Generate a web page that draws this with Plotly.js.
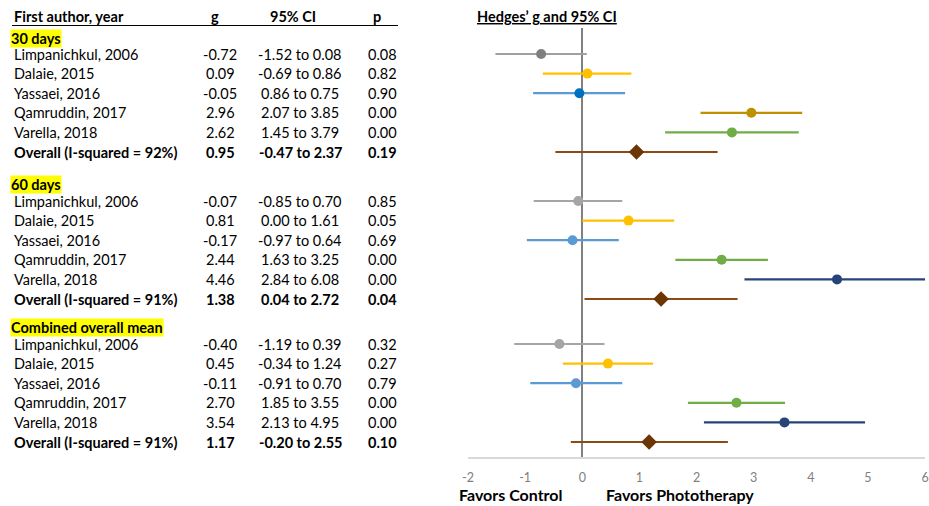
<!DOCTYPE html>
<html>
<head>
<meta charset="utf-8">
<script src="https://cdn.plot.ly/plotly-3.0.1.min.js"></script>
<style>html,body{margin:0;padding:0;background:#fff;}#chart{width:929px;height:506px;}</style>
</head>
<body>
<div id="chart"></div>
<script>
// ---------------- DATA ----------------
const groups = ["30 days", "60 days", "Combined overall mean"];
const studies = ["Limpanichkul, 2006", "Dalaie, 2015", "Yassaei, 2016", "Qamruddin, 2017", "Varella, 2018"];
const overallLabels = ["Overall (I-squared = 92%)", "Overall (I-squared = 91%)", "Overall (I-squared = 91%)"];

const g_30  = [-0.72, 0.09, -0.05, 2.96, 2.62, 0.95];
const lo_30 = [-1.52, -0.69, -0.86, 2.07, 1.45, -0.47];
const hi_30 = [0.08, 0.86, 0.75, 3.85, 3.79, 2.37];
const ci_30 = ["-1.52 to 0.08", "-0.69 to 0.86", "0.86 to 0.75", "2.07 to 3.85", "1.45 to 3.79", "-0.47 to 2.37"];
const p_30  = ["0.08", "0.82", "0.90", "0.00", "0.00", "0.19"];

const g_60  = [-0.07, 0.81, -0.17, 2.44, 4.46, 1.38];
const lo_60 = [-0.85, 0.00, -0.97, 1.63, 2.84, 0.04];
const hi_60 = [0.70, 1.61, 0.64, 3.25, 6.08, 2.72];
const ci_60 = ["-0.85 to 0.70", "0.00 to 1.61", "-0.97 to 0.64", "1.63 to 3.25", "2.84 to 6.08", "0.04 to 2.72"];
const p_60  = ["0.85", "0.05", "0.69", "0.00", "0.00", "0.04"];

const g_all  = [-0.40, 0.45, -0.11, 2.70, 3.54, 1.17];
const lo_all = [-1.19, -0.34, -0.91, 1.85, 2.13, -0.20];
const hi_all = [0.39, 1.24, 0.70, 3.55, 4.95, 2.55];
const ci_all = ["-1.19 to 0.39", "-0.34 to 1.24", "-0.91 to 0.70", "1.85 to 3.55", "2.13 to 4.95", "-0.20 to 2.55"];
const p_all  = ["0.32", "0.27", "0.79", "0.00", "0.00", "0.10"];

const xTicks = [-2, -1, 0, 1, 2, 3, 4, 5, 6];
const headers = ["First author, year", "g", "95% CI", "p"];
const plotTitle = "Hedges\u2019 g and 95% CI";
const favorsLeft = "Favors Control";
const favorsRight = "Favors Phototherapy";

// ---------------- LAYOUT / STYLE ----------------
const W = 929, H = 506, TOP = 28, BOTTOM = 457;
const px2x = px => px / W;
const py2y = py => (BOTTOM - py) / (BOTTOM - TOP);
const FONT = "Lato, 'Open Sans', sans-serif";

const groupData = [
  {g: g_30, lo: lo_30, hi: hi_30, ci: ci_30, p: p_30},
  {g: g_60, lo: lo_60, hi: hi_60, ci: ci_60, p: p_60},
  {g: g_all, lo: lo_all, hi: hi_all, ci: ci_all, p: p_all}
];
const groupFirstRow = [54, 201, 344];
const groupLabelY = [38, 184, 327];
const rowStep = 19.6;

const lineColors = [
  ["#a0a0a0", "#ffc000", "#5b9bd5", "#bf9000", "#70ad47", "#8c4a14"],
  ["#a5a5a5", "#ffc000", "#5b9bd5", "#70ad47", "#264478", "#8c4a14"],
  ["#a5a5a5", "#ffc000", "#5b9bd5", "#70ad47", "#264478", "#8c4a14"]
];
const markerColors = [
  ["#7f7f7f", "#ffc000", "#0070c0", "#bf9000", "#70ad47", "#6b3504"],
  ["#a5a5a5", "#ffc000", "#5b9bd5", "#70ad47", "#264478", "#6b3504"],
  ["#a5a5a5", "#ffc000", "#5b9bd5", "#70ad47", "#264478", "#6b3504"]
];

const colX = {name: 12, g: 220, ci: 300, p: 382};

const traces = [];
const annotations = [];

groupData.forEach((gd, gi) => {
  const ypos = i => groupFirstRow[gi] + i * rowStep;
  annotations.push({
    text: "<b>" + groups[gi] + "</b>", xref: "paper", yref: "y",
    x: px2x(10), y: groupLabelY[gi], xanchor: "left", yanchor: "middle",
    showarrow: false, bgcolor: "#ffff00", borderpad: 0,
    font: {family: FONT, size: 14.5, color: "#000"}
  });
  gd.g.forEach((v, i) => {
    const isOverall = i === gd.g.length - 1;
    traces.push({
      type: "scatter", mode: "markers", x: [v], y: [ypos(i)],
      marker: {
        symbol: isOverall ? "diamond" : "circle",
        size: isOverall ? 12 : 10,
        color: markerColors[gi][i], line: {width: 0}
      },
      error_x: {
        type: "data", symmetric: false,
        array: [gd.hi[i] - v], arrayminus: [v - gd.lo[i]],
        color: lineColors[gi][i], thickness: 2.2, width: 0
      },
      showlegend: false, hoverinfo: "skip", cliponaxis: false
    });
    const label = isOverall ? overallLabels[gi] : studies[i];
    const wrap = s => isOverall ? "<b>" + s + "</b>" : s;
    const font = {family: FONT, size: 14.5, color: "#000"};
    annotations.push({text: wrap(label), xref: "paper", yref: "y", x: px2x(colX.name), y: ypos(i),
      xanchor: "left", yanchor: "middle", showarrow: false, font});
    annotations.push({text: wrap(v.toFixed(2)), xref: "paper", yref: "y", x: px2x(colX.g), y: ypos(i),
      xanchor: "center", yanchor: "middle", showarrow: false, font});
    annotations.push({text: wrap(gd.ci[i]), xref: "paper", yref: "y", x: px2x(colX.ci), y: ypos(i),
      xanchor: "center", yanchor: "middle", showarrow: false, font});
    annotations.push({text: wrap(gd.p[i]), xref: "paper", yref: "y", x: px2x(colX.p), y: ypos(i),
      xanchor: "center", yanchor: "middle", showarrow: false, font});
  });
});

const headerX = [colX.name, 215, 293, 377];
headers.forEach((h, i) => {
  annotations.push({
    text: "<b>" + h + "</b>", xref: "paper", yref: "paper",
    x: px2x(headerX[i]), y: py2y(16), xanchor: i === 0 ? "left" : "center", yanchor: "middle",
    showarrow: false, font: {family: FONT, size: 14.5, color: "#000"}
  });
});
annotations.push({
  text: "<b><u>" + plotTitle + "</u></b>", xref: "paper", yref: "paper",
  x: px2x(475), y: py2y(16), xanchor: "left", yanchor: "middle",
  showarrow: false, font: {family: FONT, size: 14.5, color: "#000"}
});
annotations.push({
  text: "<b>" + favorsLeft + "</b>", xref: "paper", yref: "paper",
  x: px2x(511), y: py2y(495), xanchor: "center", yanchor: "middle",
  showarrow: false, font: {family: FONT, size: 16, color: "#000"}
});
annotations.push({
  text: "<b>" + favorsRight + "</b>", xref: "paper", yref: "paper",
  x: px2x(680), y: py2y(495), xanchor: "center", yanchor: "middle",
  showarrow: false, font: {family: FONT, size: 16, color: "#000"}
});

const layout = {
  width: W, height: H,
  margin: {l: 0, r: 0, t: TOP, b: H - BOTTOM, pad: 0},
  paper_bgcolor: "#ffffff", plot_bgcolor: "#ffffff",
  showlegend: false,
  xaxis: {
    domain: [px2x(468), px2x(925)], range: [-2, 6],
    tickvals: xTicks, ticktext: xTicks.map(String),
    showgrid: false, zeroline: true, zerolinecolor: "#808080", zerolinewidth: 2,
    showline: true, linecolor: "#d9d9d9", linewidth: 1.5, ticks: "",
    ticklabelstandoff: 8,
    tickfont: {family: FONT, size: 12.5, color: "#808080"}, fixedrange: true
  },
  yaxis: {
    range: [BOTTOM, TOP], showgrid: false, zeroline: false, showline: false,
    showticklabels: false, ticks: "", fixedrange: true
  },
  shapes: [{
    type: "line", xref: "paper", yref: "paper",
    x0: px2x(12), x1: px2x(398), y0: py2y(25.5), y1: py2y(25.5),
    line: {color: "#000", width: 1.2}
  }],
  annotations: annotations
};

Plotly.newPlot("chart", traces, layout, {displayModeBar: false, staticPlot: true});
</script>
</body>
</html>
